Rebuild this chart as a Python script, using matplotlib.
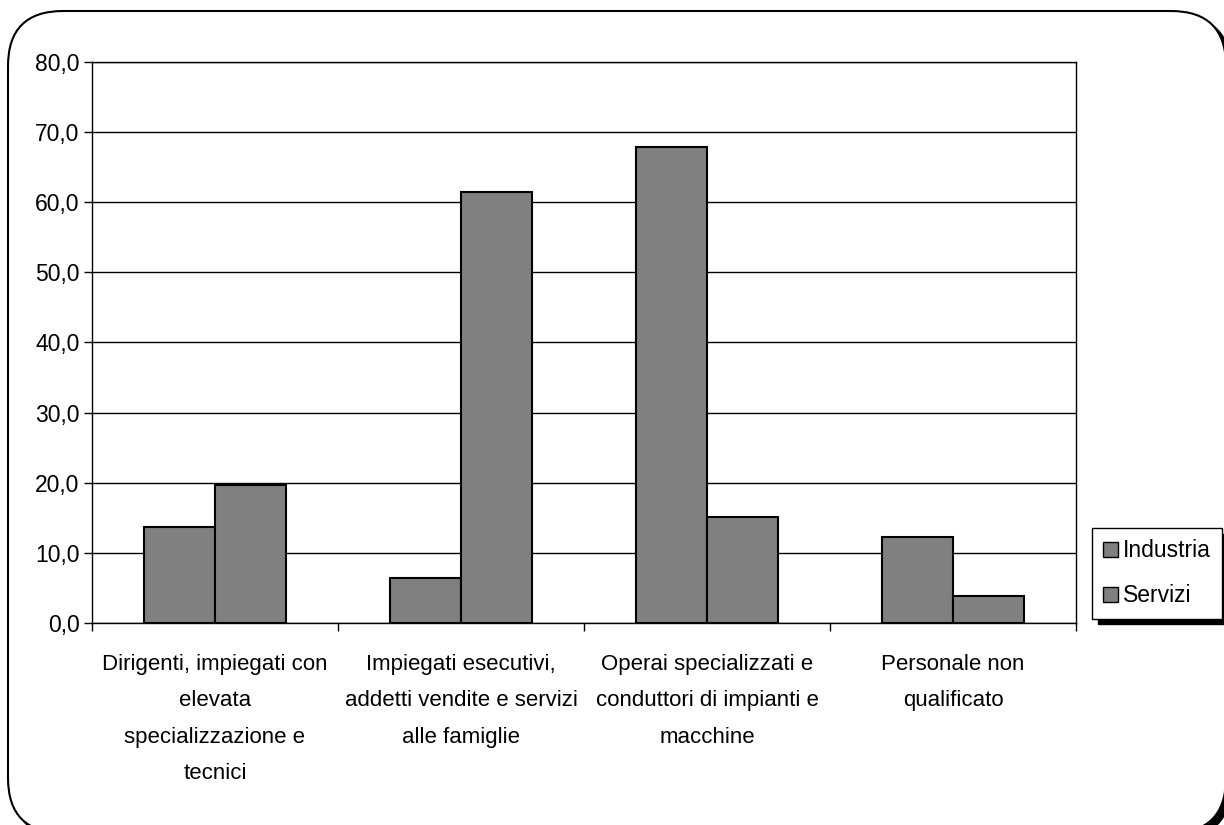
import numpy as np
import matplotlib
matplotlib.use("Agg")
from matplotlib import pyplot as plt
from matplotlib.patches import FancyBboxPatch

plt.rcParams['font.family'] = ['Liberation Sans', 'DejaVu Sans']

categories = ["Dirigenti, impiegati con\nelevata\nspecializzazione e\ntecnici",
              "Impiegati esecutivi,\naddetti vendite e servizi\nalle famiglie",
              "Operai specializzati e\nconduttori di impianti e\nmacchine",
              "Personale non\nqualificato"]
industria = [13.7, 6.4, 67.9, 12.3]
servizi = [19.7, 61.5, 15.1, 3.9]
yticks = [0, 10, 20, 30, 40, 50, 60, 70, 80]
ytick_labels = ["0,0", "10,0", "20,0", "30,0", "40,0", "50,0", "60,0", "70,0", "80,0"]

W, H = 1224, 825
fig = plt.figure(figsize=(W / 100, H / 100), dpi=100)

# rounded outer border with shadow (pixel coords -> figure fraction)
def box(x0, y0, x1, y1, **kw):
    p = FancyBboxPatch((x0 / W, 1 - y1 / H), (x1 - x0) / W, (y1 - y0) / H,
                       boxstyle="round,pad=0,rounding_size=0.045",
                       transform=fig.transFigure, mutation_aspect=W / H,
                       zorder=-10, **kw)
    fig.patches.append(p)

box(13, 16, 1231, 838, facecolor="black", edgecolor="black", lw=1.5)
box(8, 11, 1226, 833, facecolor="white", edgecolor="black", lw=1.5)

ax = fig.add_axes([92 / W, 1 - 623 / H, (1076 - 92) / W, (623 - 62) / H])
ax.set_facecolor("white")

x = np.arange(len(categories))
bw = 0.287
ax.bar(x - bw / 2, industria, bw, color="#808080", edgecolor="black", lw=1.5,
       label="Industria", zorder=3)
ax.bar(x + bw / 2, servizi, bw, color="#808080", edgecolor="black", lw=1.5,
       label="Servizi", zorder=3)

ax.set_ylim(0, 80)
ax.set_xlim(-0.5, 3.5)
ax.set_yticks(yticks)
ax.set_yticklabels(ytick_labels, fontsize=16.5)
ax.yaxis.grid(True, color="black", lw=1)
ax.set_axisbelow(True)

ax.set_xticks(x)
ax.set_xticklabels(categories, fontsize=16, linespacing=1.97)
ax.set_xticks(np.arange(-0.5, 4, 1), minor=True)
ax.tick_params(axis="x", which="major", length=0, pad=22)
ax.tick_params(axis="x", which="minor", length=6, width=1, direction="out")
ax.tick_params(axis="y", length=6, width=1, direction="out", pad=3)

for s in ax.spines.values():
    s.set_color("black")
    s.set_linewidth(1)

leg = fig.legend(loc="upper left", bbox_to_anchor=(1092 / W, 1 - 528 / H),
                 fontsize=16.5, frameon=True, fancybox=False,
                 shadow={"color": "black", "alpha": 1, "ox": 4, "oy": -4},
                 handlelength=0.65, handleheight=0.65, handletextpad=0.2,
                 labelspacing=0.95, borderpad=0.5, borderaxespad=0)
leg.get_frame().set_edgecolor("black")
leg.get_frame().set_linewidth(1)
for h in leg.legend_handles:
    h.set_linewidth(1)

fig.savefig("out.png", dpi=100)
